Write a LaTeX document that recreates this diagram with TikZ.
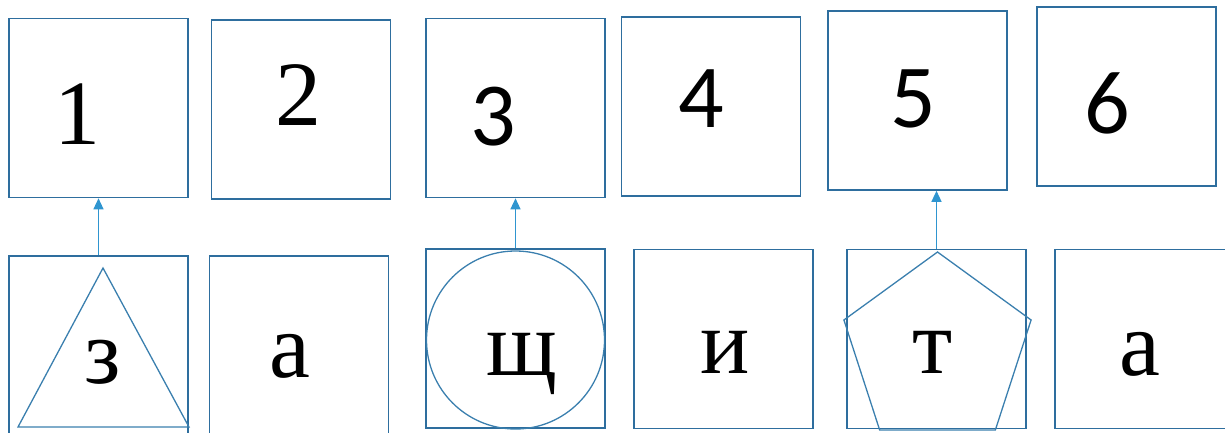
\documentclass[tikz,border=0pt]{standalone}
\usepackage{fontspec}
\setmainfont{Liberation Serif}
\newfontfamily\carlito{Carlito}
\usetikzlibrary{arrows.meta,shapes.geometric}
\definecolor{boxblue}{RGB}{46,110,158}
\definecolor{arrowblue}{RGB}{47,149,208}
\definecolor{shapeblue}{RGB}{58,127,174}

\begin{document}
\begin{tikzpicture}[x=1pt,y=-1pt,
    cell/.style={draw=boxblue,line width=1.6pt,minimum size=179pt,inner sep=0pt},
    glyph/.style={anchor=base,inner sep=0pt,font=\fontsize{92}{92}\selectfont},
    digit/.style={glyph,font=\fontsize{90}{90}\selectfont\carlito},
    figline/.style={draw=shapeblue,line width=1.3pt},
    uparrow/.style={draw=arrowblue,line width=1.3pt,-{Triangle[width=10pt,length=11pt]}}]

\useasboundingbox (0,0) rectangle (1225,432);

% top row
\foreach \name/\cx/\cy in {t1/98.5/108, t2/301/109.5, t3/515.5/108, t4/711/106.5, t5/917.5/100.5, t6/1126.5/96.5}
    \node[cell] (\name) at (\cx,\cy) {};

% bottom row
\foreach \name/\cx/\cy in {b1/98.5/345.5, b2/299/345.5, b3/515.5/338.5, b4/723.5/339, b5/936.5/339, b6/1144.5/339}
    \node[cell] (\name) at (\cx,\cy) {};

% numbers
\node[glyph] (n1) at (77,144) {1};
\node[glyph] (n2) at (298,125) {2};
\foreach \name/\lx/\ly/\txt in {n3/493/145/3, n4/701/127/4, n5/913/127/5, n6/1107/133/6}
    \node[digit] (\name) at (\lx,\ly) {\txt};

% letters
\foreach \name/\lx/\ly/\txt in {l1/103/383/з, l2/290/377/а, l3/522/375/щ, l4/725/373/и, l5/933/373/т, l6/1140/375/а}
    \node[glyph] (\name) at (\lx,\ly) {\txt};

% figures over the letters
\draw[figline] (103,268) -- (18,427) -- (189,427) -- cycle;
\node[figline,circle,minimum size=178pt,inner sep=0pt] (ring) at (515.5,340) {};
\node[figline,regular polygon,regular polygon sides=5,minimum size=196.8pt,inner sep=0pt] (penta) at (937.5,350.4) {};

% arrows
\draw[uparrow] (b1.north) -- (t1.south);
\draw[uparrow] (b3.north) -- (t3.south);
\draw[uparrow] (b5.north) -- (b5.north |- t5.south);

\end{tikzpicture}
\end{document}
